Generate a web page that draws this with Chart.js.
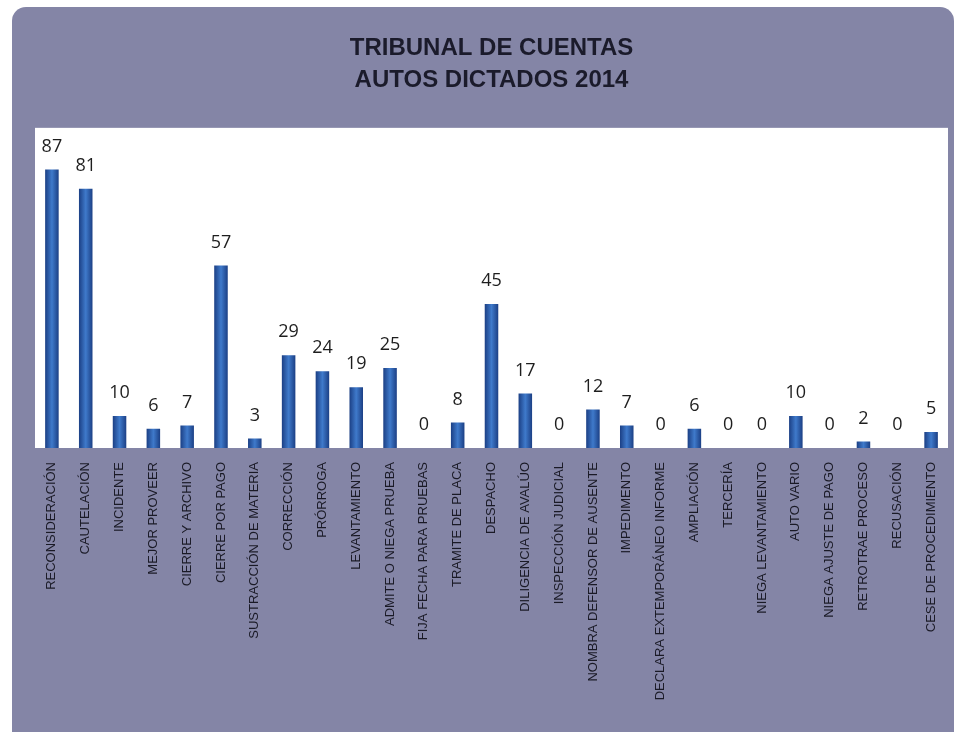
<!DOCTYPE html>
<html>
<head>
<meta charset="utf-8">
<script src="https://cdn.jsdelivr.net/npm/chart.js@4"></script>
<style>
  html, body { margin: 0; padding: 0; background: #ffffff; }
  #panel { position: absolute; left: 12px; top: 7px; width: 942px; height: 740px;
           background: #8485a6; border-radius: 14px 14px 0 0; }
  #wrap { position: absolute; left: 0; top: 0; width: 964px; height: 732px; }
</style>
</head>
<body>
<div id="panel"></div>
<div id="wrap"><canvas id="plot_1"></canvas></div>
<script>
const categorias = [
  'RECONSIDERACIÓN', 'CAUTELACIÓN', 'INCIDENTE', 'MEJOR PROVEER', 'CIERRE Y ARCHIVO',
  'CIERRE POR PAGO', 'SUSTRACCIÓN DE MATERIA', 'CORRECCIÓN', 'PRÓRROGA', 'LEVANTAMIENTO',
  'ADMITE O NIEGA PRUEBA', 'FIJA FECHA PARA PRUEBAS', 'TRAMITE DE PLACA', 'DESPACHO',
  'DILIGENCIA DE AVALÚO', 'INSPECCIÓN JUDICIAL', 'NOMBRA DEFENSOR DE AUSENTE', 'IMPEDIMENTO',
  'DECLARA EXTEMPORÁNEO INFORME', 'AMPLIACIÓN', 'TERCERÍA', 'NIEGA LEVANTAMIENTO',
  'AUTO VARIO', 'NIEGA AJUSTE DE PAGO', 'RETROTRAE PROCESO', 'RECUSACIÓN', 'CESE DE PROCEDIMIENTO'
];
const autos = [87, 81, 10, 6, 7, 57, 3, 29, 24, 19, 25, 0, 8, 45, 17, 0, 12, 7, 0, 6, 0, 0, 10, 0, 2, 0, 5];
const titulo = ['TRIBUNAL DE CUENTAS', 'AUTOS DICTADOS 2014'];

const plot_1 = document.getElementById('plot_1');

// fondo blanco del area de trazado
const fondo = {
  id: 'fondo',
  beforeDraw(chart) {
    const { ctx, chartArea: a } = chart;
    ctx.save();
    ctx.fillStyle = '#ffffff';
    ctx.fillRect(a.left, a.top, a.right - a.left, a.bottom - a.top);
    ctx.restore();
  }
};

// numeros encima de cada barra
const etiquetas = {
  id: 'etiquetas',
  afterDatasetsDraw(chart) {
    const ctx = chart.ctx;
    const meta = chart.getDatasetMeta(0);
    ctx.save();
    ctx.font = '18px "Open Sans", "Liberation Sans", sans-serif';
    ctx.fillStyle = '#1e1e1e';
    ctx.textAlign = 'center';
    ctx.textBaseline = 'bottom';
    meta.data.forEach((bar, i) => {
      ctx.fillText(String(autos[i]), bar.x, bar.y - 14);
    });
    ctx.restore();
  }
};

function colorBarra(context) {
  const chart = context.chart;
  if (!chart.chartArea || !chart.scales.x) return '#2a5caa';
  const x = chart.scales.x.getPixelForValue(context.dataIndex);
  const g = chart.ctx.createLinearGradient(x - 7, 0, x + 7, 0);
  g.addColorStop(0, '#1a3d82');
  g.addColorStop(0.5, '#3f7acb');
  g.addColorStop(1, '#1a3d82');
  return g;
}

const grafico = new Chart(plot_1, {
  type: 'bar',
  data: {
    labels: categorias,
    datasets: [{
      label: 'Autos dictados',
      data: autos,
      backgroundColor: colorBarra,
      borderWidth: 0,
      barPercentage: 0.4,
      categoryPercentage: 1.0
    }]
  },
  options: {
    responsive: true,
    maintainAspectRatio: false,
    animation: false,
    layout: { padding: { left: 35, right: 16, top: 0, bottom: 0 } },
    plugins: {
      legend: { display: false },
      tooltip: { enabled: false },
      title: {
        display: true,
        text: titulo,
        color: '#1b1b2b',
        font: { family: '"Liberation Sans", Arial, sans-serif', size: 24, weight: 'bold', lineHeight: 1.33 },
        padding: { top: 32, bottom: 32 }
      }
    },
    scales: {
      x: {
        grid: { display: false },
        border: { display: false },
        ticks: {
          autoSkip: false,
          maxRotation: 90,
          minRotation: 90,
          padding: 6,
          color: '#1a1a26',
          font: { family: '"Liberation Sans", Arial, sans-serif', size: 13 }
        },
        afterFit(scale) { scale.height = 284; }
      },
      y: {
        display: false,
        min: 0,
        max: 100
      }
    }
  },
  plugins: [fondo, etiquetas]
});
</script>
</body>
</html>
